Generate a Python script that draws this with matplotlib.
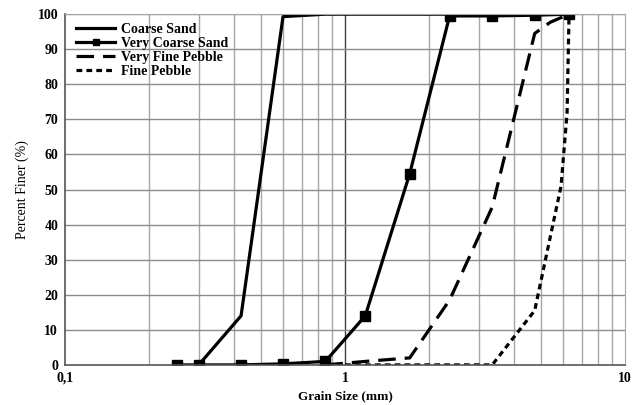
import matplotlib
matplotlib.use("Agg")
import matplotlib.pyplot as plt
from matplotlib.ticker import FixedLocator, NullFormatter

plt.rcParams['font.family'] = ['Liberation Serif', 'DejaVu Serif']

# sieve sizes (mm) and percent finer for each sample
coarse_sand_x = [0.30, 0.425, 0.60, 0.85, 6.3]
coarse_sand_y = [0, 14, 99.3, 100, 100]

very_coarse_x = [0.25, 0.30, 0.425, 0.60, 0.85, 1.18, 1.70, 2.36, 3.35, 4.75, 6.3]
very_coarse_y = [0, 0, 0, 0.3, 1, 14, 54.5, 99.5, 99.5, 99.7, 100]

very_fine_pebble_x = [0.85, 1.18, 1.70, 2.36, 3.35, 4.75, 5.4, 6.3]
very_fine_pebble_y = [0, 1, 2, 18.5, 45, 94.5, 97.7, 100]

fine_pebble_x = [1.0, 1.70, 2.36, 3.35, 4.75, 5.9, 6.2, 6.3]
fine_pebble_y = [0, 0, 0, 0, 15.5, 51, 72, 100]

x_ticks = [0.1, 1, 10]
x_tick_labels = ["0,1", "1", "10"]
y_ticks = list(range(0, 101, 10))

fig = plt.figure(figsize=(6.38, 4.05), dpi=100)
ax = fig.add_axes([0.102, 0.099, 0.878, 0.866])
ax.set_xscale('log')
ax.set_xlim(0.1, 10)
ax.set_ylim(0, 100)

# grid: light minor verticals, darker line at 1
minor = [m * d for d in (0.1, 1) for m in range(2, 10)]
ax.xaxis.set_minor_locator(FixedLocator(minor))
ax.xaxis.set_minor_formatter(NullFormatter())
ax.set_xticks(x_ticks)
ax.set_xticklabels(x_tick_labels)
ax.set_yticks(y_ticks)
for m in minor:
    ax.axvline(m, color='#a6a6a6', lw=1.0, zorder=0)
ax.axvline(1, color='#404040', lw=1.0, zorder=0)
for y in y_ticks[1:]:
    ax.axhline(y, color='#8c8c8c', lw=1.0, zorder=0)

ax.tick_params(which='both', length=0, labelsize=10, pad=5)
for lab in ax.get_xticklabels() + ax.get_yticklabels():
    lab.set_fontweight('bold')

for side in ('top', 'right'):
    ax.spines[side].set_color('#a6a6a6')
for side in ('left', 'bottom'):
    ax.spines[side].set_color('#555555')
    ax.spines[side].set_linewidth(1.2)

lw = 2.3
ax.plot(coarse_sand_x, coarse_sand_y, color='black', lw=lw, label='Coarse Sand')
ax.plot(very_coarse_x, very_coarse_y, color='black', lw=lw, marker='s',
        markersize=6.5, label='Very Coarse Sand')
ax.plot(very_fine_pebble_x, very_fine_pebble_y, color='black', lw=lw,
        dashes=(5.5, 2.8), label='Very Fine Pebble')
ax.plot(fine_pebble_x, fine_pebble_y, color='black', lw=lw,
        dashes=(1.8, 1.3), label='Fine Pebble')

leg = ax.legend(loc='upper left', frameon=False,
                prop={'weight': 'bold', 'size': 10}, handlelength=2.8,
                handletextpad=0.4, labelspacing=0.08, markerscale=0.75,
                borderaxespad=0.2, bbox_to_anchor=(0.005, 1.0))

ax.set_xlabel('Grain Size (mm)', fontsize=9.5, fontweight='bold', labelpad=4)
ax.set_ylabel('Percent Finer (%)', fontsize=10, labelpad=6)

fig.savefig('out.png', dpi=100)
